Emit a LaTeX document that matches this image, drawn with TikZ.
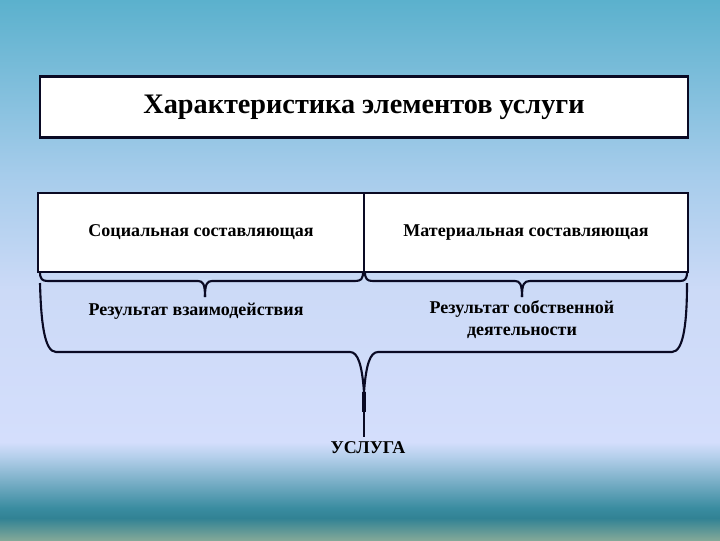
\documentclass[tikz,border=0pt]{standalone}
\usepackage{fontspec}
\setmainfont{Liberation Serif}
\definecolor{bgA}{HTML}{5BB1CD}
\definecolor{bgB}{HTML}{A6CCEB}
\definecolor{bgC}{HTML}{CCDAF7}
\definecolor{bgD}{HTML}{D4DEFC}
\definecolor{bgE}{HTML}{B6D0EC}
\definecolor{bgF}{HTML}{3A8CA0}
\definecolor{bgG}{HTML}{318294}
\definecolor{bgH}{HTML}{82A898}
\definecolor{ink}{HTML}{0A0A24}

\begin{document}
\begin{tikzpicture}[x=0.025cm,y=-0.025cm,
    box/.style={draw=ink,line width=1.6pt,fill=white,inner sep=0pt},
    brace/.style={draw=ink,line width=1.5pt,line join=round},
    label/.style={font=\bfseries\fontsize{12.8}{15.5}\selectfont}]

    % background bands
    \fill[top color=bgA,bottom color=bgB] (0,0) rectangle (720,175);
    \fill[top color=bgB,bottom color=bgC] (0,175) rectangle (720,290);
    \fill[top color=bgC,bottom color=bgD] (0,290) rectangle (720,442);
    \fill[top color=bgD,bottom color=bgE] (0,442) rectangle (720,456);
    \fill[top color=bgE,bottom color=bgF] (0,456) rectangle (720,508);
    \fill[top color=bgF,bottom color=bgG] (0,508) rectangle (720,518);
    \fill[top color=bgG,bottom color=bgH] (0,518) rectangle (720,540);
    \useasboundingbox (0,0) rectangle (720,540);

    \begin{scope}[every node/.style={box,label}]
        \node[minimum width=16.2cm,minimum height=1.525cm,font=\bfseries\fontsize{20.1}{24}\selectfont]
            (title) at (364,107) {Характеристика элементов услуги};
        \node[minimum width=8.15cm,minimum height=1.975cm] (social) at (201,232.5) {Социальная составляющая};
        \node[minimum width=8.1cm,minimum height=1.975cm] (material) at (526,232.5) {Материальная составляющая};
    \end{scope}

    \begin{scope}[every node/.style={label,align=center}]
        \node (inter) at (196,311) {Результат взаимодействия};
        \node (own) at (522,320) {Результат собственной\\деятельности};
        \node (usluga) at (368,448) {УСЛУГА};
    \end{scope}

    % small braces under the two cells
    \draw[brace] (40,272) .. controls (40,279) and (42,281) .. (48,281) -- (198,281)
        .. controls (203,281) and (205,284) .. (205,297);
    \draw[brace] (205,297) .. controls (205,284) and (207,281) .. (212,281) -- (355,281)
        .. controls (361,281) and (363,279) .. (363,272);
    \draw[brace] (365,272) .. controls (365,279) and (367,281) .. (373,281) -- (515,281)
        .. controls (520,281) and (522,284) .. (522,297);
    \draw[brace] (522,297) .. controls (522,284) and (524,281) .. (530,281) -- (680,281)
        .. controls (685,281) and (687,279) .. (687,272);

    % big brace
    \coordinate (tip) at (364,392);
    \draw[brace] (40,283) .. controls (41,320) and (44,352) .. (56,352) -- (350,352)
        .. controls (358,352) and (362,365) .. (tip);
    \draw[brace] (tip) .. controls (366,365) and (370,352) .. (378,352) -- (672,352)
        .. controls (684,352) and (687,320) .. (687,283);
    \draw[ink,line width=2.4pt] (tip) -- ++(0,20);
    \draw[ink,line width=1.2pt] (tip) -- (tip |- usluga.north);

\end{tikzpicture}
\end{document}
